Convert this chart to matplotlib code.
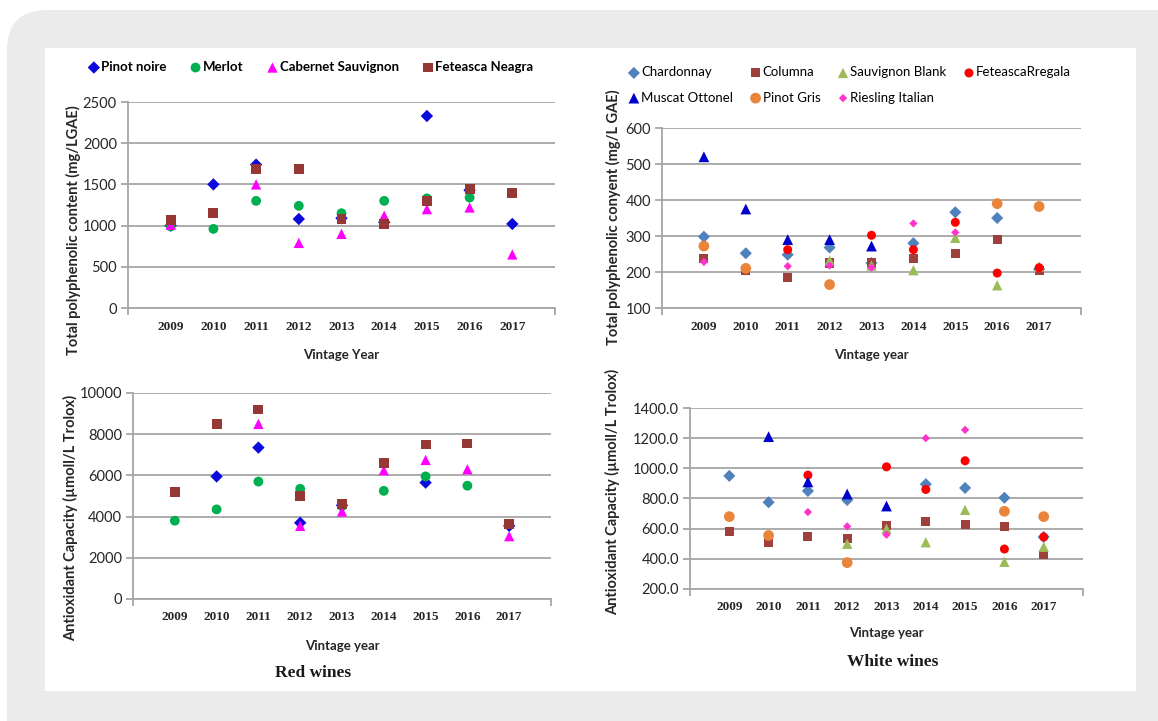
import numpy as np
import matplotlib.pyplot as plt
import matplotlib.patches as mpatches

nan = np.nan
years = [2009, 2010, 2011, 2012, 2013, 2014, 2015, 2016, 2017]

# Red wines - total polyphenolic content (mg/L GAE)
red_tpc = {
    "Pinot noire":       [1000, 1500, 1740, 1080, 1090, 1040, 2330, 1430, 1020],
    "Merlot":            [990, 960, 1300, 1240, 1150, 1300, 1330, 1340, nan],
    "Cabernet Sauvignon": [1010, nan, 1500, 790, 900, 1120, 1200, 1220, 650],
    "Feteasca Neagra":   [1070, 1150, 1690, 1690, 1080, 1020, 1300, 1440, 1400],
}
# Red wines - antioxidant capacity
red_ac = {
    "Pinot noire":       [nan, 5950, 7350, 3700, 4550, nan, 5650, nan, 3550],
    "Merlot":            [3800, 4350, 5700, 5350, 4500, 5250, 5950, 5500, nan],
    "Cabernet Sauvignon": [nan, nan, 8500, 3550, 4250, 6250, 6750, 6300, 3050],
    "Feteasca Neagra":   [5200, 8500, 9200, 5000, 4600, 6600, 7500, 7550, 3650],
}
# White wines - total polyphenolic content
white_tpc = {
    "Chardonnay":       [298, 252, 248, 268, 225, 280, 366, 350, 208],
    "Columna":          [238, 203, 185, 225, 225, 238, 252, 290, 205],
    "Sauvignon Blank":  [nan, nan, nan, 232, 218, 205, 295, 163, 215],
    "FeteascaRregala":  [nan, nan, 262, nan, 302, 262, 338, 197, 212],
    "Muscat Ottonel":   [520, 375, 290, 290, 272, nan, nan, nan, nan],
    "Pinot Gris":       [272, 210, nan, 165, nan, nan, nan, 390, 382],
    "Riesling Italian": [228, nan, 216, 218, 212, 335, 310, nan, nan],
}
# White wines - antioxidant capacity
white_ac = {
    "Chardonnay":       [950, 775, 850, 790, nan, 895, 870, 805, 545],
    "Columna":          [578, 510, 550, 535, 620, 645, 630, 615, 430],
    "Sauvignon Blank":  [nan, nan, nan, 500, 600, 510, 725, 380, 480],
    "FeteascaRregala":  [nan, nan, 955, nan, 1010, 860, 1050, 465, 545],
    "Muscat Ottonel":   [nan, 1210, 910, 830, 750, nan, nan, nan, nan],
    "Pinot Gris":       [680, 555, nan, 375, nan, nan, nan, 715, 680],
    "Riesling Italian": [nan, nan, 710, 615, 560, 1200, 1255, nan, nan],
}

red_style = {
    "Pinot noire":        ("D", "#0a0adc", 40),
    "Merlot":             ("o", "#00b050", 50),
    "Cabernet Sauvignon": ("^", "#ff00ff", 55),
    "Feteasca Neagra":    ("s", "#953735", 50),
}
white_style = {
    "Chardonnay":       ("D", "#4f81bd", 38),
    "Columna":          ("s", "#a0403c", 42),
    "Sauvignon Blank":  ("^", "#9bbb59", 55),
    "FeteascaRregala":  ("o", "#ff0000", 42),
    "Muscat Ottonel":   ("^", "#0000cc", 60),
    "Pinot Gris":       ("o", "#e8853a", 60),
    "Riesling Italian": ("D", "#ff33cc", 18),
}

W, H = 1158, 721
fig = plt.figure(figsize=(W / 100, H / 100), dpi=100)
fig.patch.set_facecolor("white")

# background panel in pixel coordinates
bg = fig.add_axes([0, 0, 1, 1], zorder=-1)
bg.set_xlim(0, W)
bg.set_ylim(H, 0)
bg.axis("off")
bg.add_patch(mpatches.FancyBboxPatch((7, 10), W + 40, H + 40,
                                     boxstyle="round,pad=0,rounding_size=40",
                                     fc="#ebebeb", ec="none"))
bg.add_patch(mpatches.Rectangle((45, 48), 1091, 643, fc="white", ec="none"))

sans = "Lato"
serif = "Liberation Serif"
grid_c = "#a6a6a6"
txt_c = "#262626"


def make_ax(left, right, top, bottom):
    ax = fig.add_axes([left / W, (H - bottom) / H, (right - left) / W, (bottom - top) / H])
    ax.set_facecolor("none")
    for s in ("top", "right"):
        ax.spines[s].set_visible(False)
    for s in ("left", "bottom"):
        ax.spines[s].set_color(grid_c)
        ax.spines[s].set_linewidth(1.3)
    ax.grid(axis="y", color=grid_c, lw=1.3)
    ax.set_axisbelow(True)
    ax.set_xlim(2008, 2018)
    ax.set_xticks(years)
    ax.set_xticklabels([str(y) for y in years], fontfamily=serif,
                       fontweight="bold", fontsize=9.5, color=txt_c)
    ax.tick_params(axis="x", length=0, pad=9)
    ax.set_xticks([2008, 2018], minor=True)
    ax.tick_params(axis="x", which="minor", length=5, color=grid_c, width=1.3)
    ax.tick_params(axis="y", length=5, color=grid_c, width=1.3, labelsize=10.5,
                   labelcolor=txt_c, pad=3)
    return ax


def finish_y(ax, ticks, labels=None):
    ax.set_ylim(ticks[0], ticks[-1])
    ax.set_yticks(ticks)
    if labels is None:
        labels = [str(t) for t in ticks]
    ax.set_yticklabels(labels, fontfamily=sans)


def draw(ax, data, style):
    handles = []
    for name, vals in data.items():
        m, c, s = style[name]
        h = ax.scatter(years, vals, marker=m, s=s, c=c, edgecolors="none",
                       label=name, zorder=3)
        handles.append(h)
    return handles


def xlabel(ax, text, pad=12):
    ax.set_xlabel(text, fontfamily=sans, fontweight="bold", fontsize=9.5,
                  color=txt_c, labelpad=pad)


def ylabel(x, y, text):
    bg.text(x, y, text, rotation=90, ha="center", va="center", fontfamily=sans,
            fontweight="bold", fontsize=10.5, color=txt_c)


# top-left: red TPC
ax1 = make_ax(128, 555, 102, 308)
h1 = draw(ax1, red_tpc, red_style)
finish_y(ax1, list(range(0, 2501, 500)))
xlabel(ax1, "Vintage Year")
ylabel(73, 230, "Total polyphenolic content (mg/LGAE)")
ax1.legend(handles=h1, ncol=4, loc="center left", frameon=False,
           bbox_to_anchor=(82 / W, 1 - 67 / H), bbox_transform=fig.transFigure,
           handletextpad=0.05, columnspacing=1.7, borderaxespad=0, handlelength=1,
           prop={"family": sans, "weight": "bold", "size": 9.5})

# top-right: white TPC
ax2 = make_ax(662, 1081, 128, 308)
h2 = draw(ax2, white_tpc, white_style)
finish_y(ax2, list(range(100, 601, 100)))
xlabel(ax2, "Vintage year")
ylabel(613, 217, "Total polyphenolic conyent (mg/L GAE)")
order = [0, 4, 1, 5, 2, 6, 3]
ax2.legend(handles=[h2[i] for i in order], ncol=4, loc="center left", frameon=False,
           bbox_to_anchor=(622 / W, 1 - 85 / H), bbox_transform=fig.transFigure,
           handletextpad=0.05, columnspacing=1.2, borderaxespad=0, handlelength=1,
           labelspacing=1.0, prop={"family": sans, "size": 9.5})

# bottom-left: red antioxidant capacity
ax3 = make_ax(133, 551, 393, 599)
draw(ax3, red_ac, red_style)
finish_y(ax3, list(range(0, 10001, 2000)))
xlabel(ax3, "Vintage year")
ylabel(71, 518, "Antioxidant Capacity (\u00b5moll/L Trolox)")

# bottom-right: white antioxidant capacity
ax4 = make_ax(690, 1083, 408, 589)
draw(ax4, white_ac, white_style)
ac_ticks = list(range(200, 1401, 200))
finish_y(ax4, ac_ticks, [f"{v:.1f}" for v in ac_ticks])
xlabel(ax4, "Vintage year", pad=10)
ylabel(613, 492, "Antioxidant Capacity (\u00b5moll/L Trolox)")

bg.text(313, 673, "Red wines", ha="center", va="center", fontfamily=serif,
        fontweight="bold", fontsize=12.5, color="#1a1a1a")
bg.text(893, 662, "White wines", ha="center", va="center", fontfamily=serif,
        fontweight="bold", fontsize=12.5, color="#1a1a1a")

fig.savefig("out.png", dpi=100, facecolor="white")
